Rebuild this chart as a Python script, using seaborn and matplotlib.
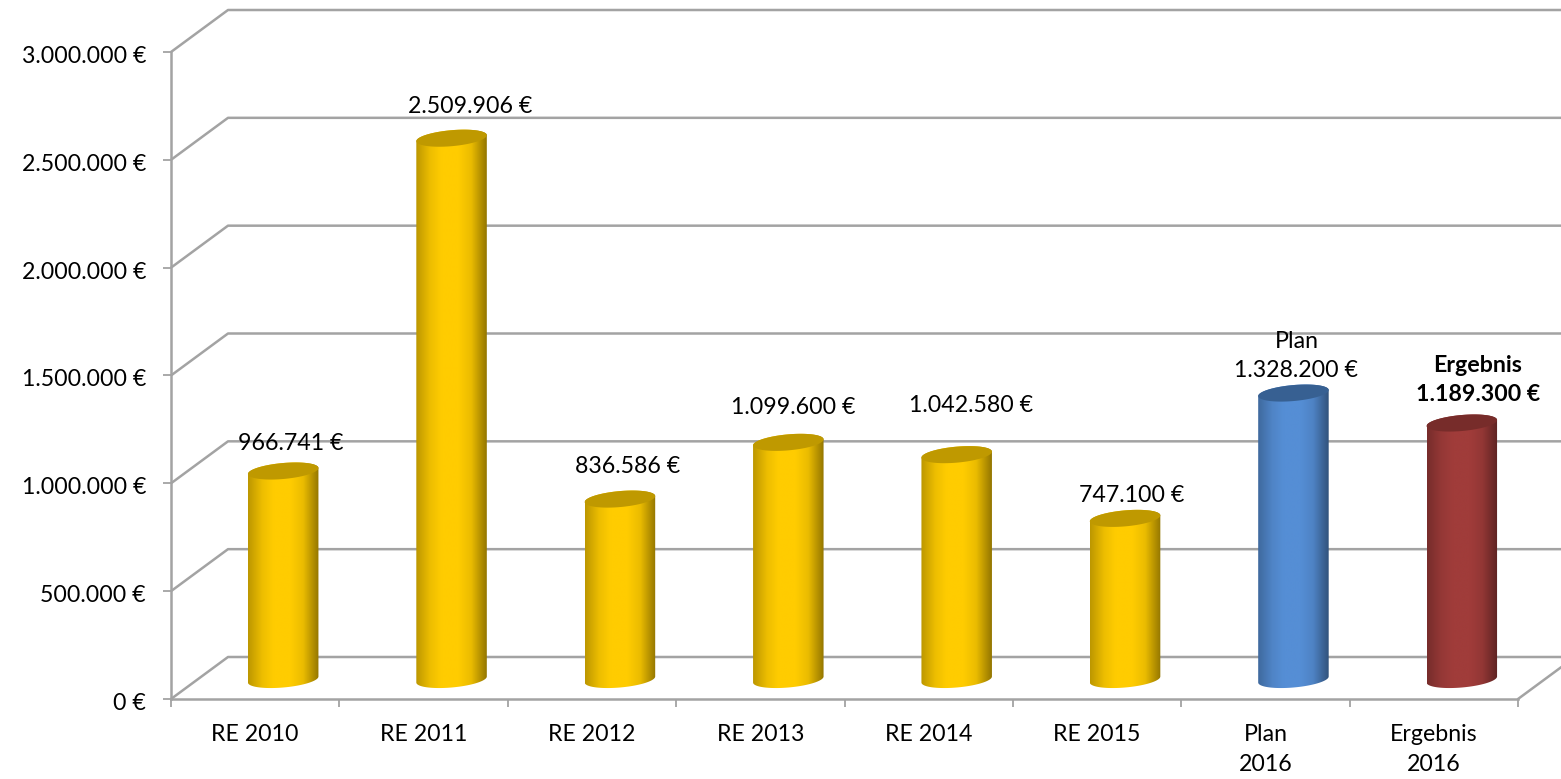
import numpy as np
import pandas as pd
import seaborn as sns
import matplotlib.pyplot as plt
from matplotlib.colors import to_rgb
from matplotlib.patches import Polygon
from matplotlib.transforms import ScaledTranslation

# ----------------------------------------------------------
# DATA
# ----------------------------------------------------------
categories = ["RE 2010", "RE 2011", "RE 2012", "RE 2013", "RE 2014", "RE 2015", "Plan\n2016", "Ergebnis\n2016"]
values = [966741, 2509906, 836586, 1099600, 1042580, 747100, 1328200, 1189300]
value_labels = ["966.741 €", "2.509.906 €", "836.586 €", "1.099.600 €", "1.042.580 €", "747.100 €",
                "Plan\n1.328.200 €", "Ergebnis\n1.189.300 €"]
y_ticks = [0, 500000, 1000000, 1500000, 2000000, 2500000, 3000000]
y_tick_labels = ["0 €", "500.000 €", "1.000.000 €", "1.500.000 €", "2.000.000 €", "2.500.000 €", "3.000.000 €"]

# ----------------------------------------------------------
# STYLE / LAYOUT
# ----------------------------------------------------------
GRID = "#A3A3A3"
FONT = 16.7
bar_colors = ["#FFCC00"] * 6 + ["#558ED5", "#A03C3A"]
top_colors = ["#BF9900"] * 6 + ["#376092", "#772C2A"]
shades = [0.74, 0.93, 1.0, 1.0, 0.92, 0.58]
shade_pos = [0.0, 0.2, 0.36, 0.6, 0.78, 1.0]

# label centre offsets from the cylinder centre / top, in pixels
label_dx = [8, 19, 8, 5, 14, 7, 3, 16]
label_dy = [17, 21, 22, 24, 39, 12, 12, 18]

sns.set_style("white")
plt.rcParams["font.family"] = ["Lato", "DejaVu Sans"]

fig = plt.figure(figsize=(15.61, 7.79), dpi=100)
ax = fig.add_axes([171 / 1561, 80 / 779, 1347 / 1561, 647 / 779])

# pixel -> data sizes
px_x = 8 / 1347
px_y = 3000000 / 647
depth_x = 57 * px_x
depth_y = 42 * px_y
shift_x = 28 * px_x
base_y = 19.5 * px_y
half_w = 35.25 * px_x
ell_b = 8.0 * px_y
ell_tilt = 3.0 * px_y

df = pd.DataFrame({"cat": categories, "val": values})
sns.barplot(data=df, x="cat", y="val", hue="cat", palette=bar_colors, dodge=False,
            legend=False, width=2 * half_w, bottom=base_y, ax=ax, zorder=3)

ax.set_xlim(-0.5, 7.5)
ax.set_ylim(0, 3000000)
xlim, ylim = ax.get_xlim(), ax.get_ylim()

# back wall grid lines with the diagonal going back from the axis
for v in y_ticks:
    ax.plot([-0.5, -0.5 + depth_x, 8.0], [v, v + depth_y, v + depth_y],
            color=GRID, lw=1.8, clip_on=False, zorder=1, solid_capstyle="butt")
ax.plot([7.5, 7.5 + depth_x], [0, depth_y], color=GRID, lw=1.8, clip_on=False, zorder=1)

# cylinders
t_low = np.linspace(np.pi, 2 * np.pi, 60)
t_up = np.linspace(0, np.pi, 60)
t_all = np.linspace(0, 2 * np.pi, 120)


def ellipse(cx, cy, t):
    return np.column_stack([cx + half_w * np.cos(t), cy + ell_tilt * np.cos(t) + ell_b * np.sin(t)])


for i, bar in enumerate(ax.patches):
    cx = bar.get_x() + bar.get_width() / 2 + shift_x
    top = values[i] + base_y
    bar.set_visible(False)

    body = Polygon(np.vstack([ellipse(cx, base_y, t_low), ellipse(cx, top, t_up)]),
                   closed=True, transform=ax.transData, fc="none", ec="none")
    ax.add_patch(body)

    # horizontal shading across the cylinder
    u = np.linspace(0, 1, 140)
    s = np.interp(u, shade_pos, shades)
    rgb = np.array(to_rgb(bar_colors[i]))
    img = np.clip(s[None, :, None] * rgb, 0, 1)
    im = ax.imshow(img, extent=[cx - half_w, cx + half_w, 0, top + 3 * ell_b],
                   aspect="auto", zorder=3, interpolation="bilinear")
    im.set_clip_path(body)

    ax.add_patch(Polygon(ellipse(cx, top, t_all), closed=True, fc=top_colors[i], ec="none", zorder=4))

    ax.annotate(value_labels[i], xy=(cx, top), xytext=(label_dx[i] * 0.72, label_dy[i] * 0.72),
                textcoords="offset points", ha="center", va="bottom", fontsize=FONT, color="black",
                fontweight="bold" if i == 7 else "normal", linespacing=1.5, zorder=6)

ax.set_xlim(xlim)
ax.set_ylim(ylim)

# axes
sns.despine(ax=ax, top=True, right=True)
for side in ["left", "bottom"]:
    ax.spines[side].set_color(GRID)
    ax.spines[side].set_linewidth(1.8)
ax.set_xlabel("")
ax.set_ylabel("")
ax.set_yticks(y_ticks)
ax.set_yticklabels(y_tick_labels, fontsize=FONT, color="black")
ax.tick_params(axis="y", left=True, length=6, width=1.3, color=GRID, pad=12)
nudge = ScaledTranslation(0, -2.5 / 100, fig.dpi_scale_trans)
for lab in ax.get_yticklabels():
    lab.set_transform(lab.get_transform() + nudge)
ax.set_xticks(range(len(categories)))
ax.set_xticklabels(categories, fontsize=FONT, color="black", linespacing=1.55)
ax.set_xticks(np.arange(-0.5, 8), minor=True)
ax.tick_params(axis="x", which="major", bottom=False, length=0, pad=18)
ax.tick_params(axis="x", which="minor", bottom=True, length=6, width=1.3, color=GRID)

fig.savefig("out.png", dpi=100, facecolor="white")
